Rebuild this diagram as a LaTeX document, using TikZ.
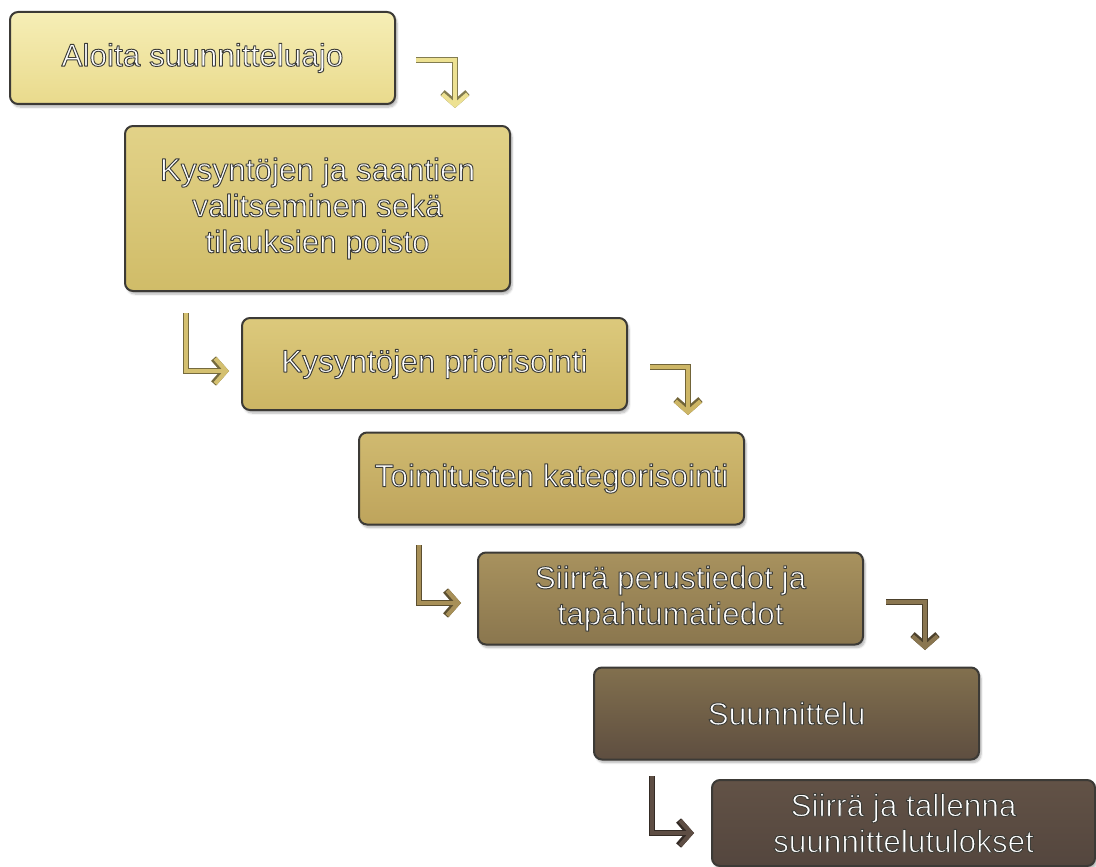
\documentclass[tikz,border=0pt]{standalone}
\usepackage{fontspec}
\setmainfont{Liberation Sans}
\usetikzlibrary{arrows.meta,shadows.blur}

% step colours: top / bottom of each box, and its arrow
\definecolor{bordc}{HTML}{3C3A36}
\definecolor{t1}{HTML}{F6EEB6}\definecolor{b1}{HTML}{E9DA8C}
\definecolor{t2}{HTML}{E2D288}\definecolor{b2}{HTML}{D0BC68}
\definecolor{t3}{HTML}{DCC97C}\definecolor{b3}{HTML}{CCB564}
\definecolor{t4}{HTML}{D0BA70}\definecolor{b4}{HTML}{BEA45C}
\definecolor{t5}{HTML}{A8925E}\definecolor{b5}{HTML}{8A764E}
\definecolor{t6}{HTML}{82704E}\definecolor{b6}{HTML}{5E4E40}
\definecolor{t7}{HTML}{625246}\definecolor{b7}{HTML}{54463E}
\definecolor{a1}{HTML}{EDE192}
\definecolor{a2}{HTML}{D4C070}
\definecolor{a3}{HTML}{CDB666}
\definecolor{a4}{HTML}{A89058}
\definecolor{a5}{HTML}{8A7650}
\definecolor{a6}{HTML}{5E4E44}

% white lettering with a thin dark outline (fill + stroke text rendering)
\newcommand\oltx[1]{\leavevmode\begingroup\color{white}%
  \special{pdf:literal direct 2 Tr 0.95 w 0.24 0.24 0.22 RG 1 j}%
  #1%
  \special{pdf:literal direct 0 Tr}\endgroup}

\tikzset{
  stepbox/.style 2 args={draw=bordc, line width=2pt, rounded corners=8pt,
    top color=#1, bottom color=#2, minimum width=385pt, minimum height=92pt,
    inner sep=0pt, align=center, text=white,
    font=\fontsize{31.5}{36}\selectfont,
    blur shadow={shadow xshift=2pt, shadow yshift=-3pt, shadow opacity=30,
      shadow blur steps=6}},
  arrowout/.style={draw=#1!55!black, line width=6.6pt, line join=miter,
    -{Straight Barb[length=11pt,width=25pt,line width=6.6pt]}},
  arrowin/.style={draw=#1, line width=4.2pt, line join=miter,
    -{Straight Barb[length=11pt,width=25pt,line width=4.2pt]}},
}

\begin{document}
\begin{tikzpicture}[x=1pt,y=-1pt]
\useasboundingbox (0,0) rectangle (1096,867);

% steps
\node[stepbox={t1}{b1}] (s1) at (202.5,58) {\oltx{Aloita suunnitteluajo}};
\node[stepbox={t2}{b2}, minimum height=165pt] (s2) at (317.5,208.5)
  {\oltx{Kysyntöjen ja saantien}\\\oltx{valitseminen sekä}\\\oltx{tilauksien poisto}};
\node[stepbox={t3}{b3}] (s3) at (434.5,364) {\oltx{Kysyntöjen priorisointi}};
\node[stepbox={t4}{b4}] (s4) at (551.5,478.5) {\oltx{Toimitusten kategorisointi}};
\node[stepbox={t5}{b5}] (s5) at (670.5,598.5)
  {\oltx{Siirrä perustiedot ja}\\\oltx{tapahtumatiedot}};
\node[stepbox={t6}{b6}] (s6) at (786.5,713.5) {\oltx{Suunnittelu}};
\node[stepbox={t7}{b7}, minimum width=383pt, minimum height=86pt] (s7) at (903.5,823)
  {\oltx{Siirrä ja tallenna}\\\oltx{suunnittelutulokset}};

% bent arrows between the steps
\coordinate (p1) at (416,60);  \coordinate (q1) at (455,108);
\coordinate (p2) at (186,313); \coordinate (q2) at (229,371);
\coordinate (p3) at (650,367); \coordinate (q3) at (688,415);
\coordinate (p4) at (419,545); \coordinate (q4) at (461,603);
\coordinate (p5) at (886,602); \coordinate (q5) at (925,650);
\coordinate (p6) at (652,776); \coordinate (q6) at (694,833);

\draw[arrowout=a1] (p1) -| (q1); \draw[arrowin=a1] (p1) -| (q1);
\draw[arrowout=a2] (p2) |- (q2); \draw[arrowin=a2] (p2) |- (q2);
\draw[arrowout=a3] (p3) -| (q3); \draw[arrowin=a3] (p3) -| (q3);
\draw[arrowout=a4] (p4) |- (q4); \draw[arrowin=a4] (p4) |- (q4);
\draw[arrowout=a5] (p5) -| (q5); \draw[arrowin=a5] (p5) -| (q5);
\draw[arrowout=a6] (p6) |- (q6); \draw[arrowin=a6] (p6) |- (q6);
\end{tikzpicture}
\end{document}
